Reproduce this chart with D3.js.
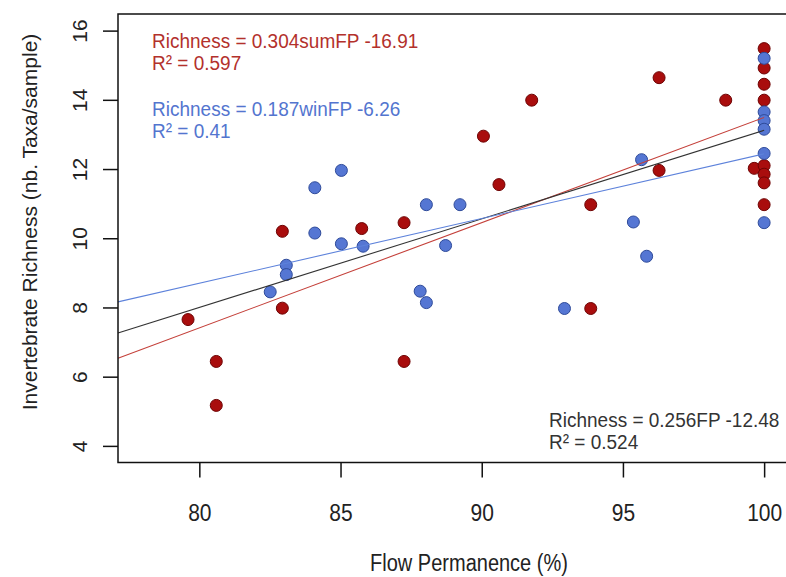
<!DOCTYPE html>
<html>
<head>
<meta charset="utf-8">
<script src="https://cdn.jsdelivr.net/npm/d3@7"></script>
<style>
  body { margin: 0; background: #fff; }
  svg text { font-family: "Liberation Sans", Arial, sans-serif; }
</style>
</head>
<body>
<svg id="chart" width="786" height="577"></svg>
<script>
// summer flow permanence (red) and winter flow permanence (blue)
var sumX = [79.6, 80.6, 80.6, 82.94, 82.94, 85.75, 87.25, 87.25, 90.06, 90.61, 91.77, 93.86, 93.86,
            96.28, 96.28, 98.64, 99.65, 100, 100, 100, 100, 100, 100, 100, 100];
var sumY = [7.65, 6.44, 5.17, 10.2, 7.98, 10.28, 10.45, 6.44, 12.95, 11.55, 13.99, 10.97, 7.97,
            14.64, 11.96, 13.99, 12.02, 15.48, 14.92, 14.45, 13.99, 12.1, 11.85, 11.6, 10.97];
var winX = [82.51, 83.08, 83.08, 84.09, 84.09, 85.03, 85.03, 85.8, 87.82, 88.04, 88.04, 88.72,
            89.23, 92.93, 95.37, 95.66, 95.84, 100, 100, 100, 100, 100, 100];
var winY = [8.45, 9.22, 8.95, 11.46, 10.15, 11.96, 9.84, 9.77, 8.47, 10.97, 8.14, 9.79,
            10.97, 7.97, 10.47, 12.27, 9.48, 15.2, 13.65, 13.4, 13.15, 12.45, 10.45];

// fitted lines: [slope, intercept]
var fitAll = [0.256, -12.48];
var fitSum = [0.304, -16.91];
var fitWin = [0.187, -6.26];

var xTicks = [80, 85, 90, 95, 100];
var yTicks = [4, 6, 8, 10, 12, 14, 16];

var svg = d3.select('#chart');

// plot region (R style: limits padded by 4%)
var plotLeft = 118, plotTop = 14, plotBottom = 462.5;
var x = d3.scaleLinear().domain([77.12, 100.88]).range([plotLeft, plotLeft + 23.76 * 28.24]);
var y = d3.scaleLinear().domain([3.52, 16.48]).range([plotBottom, plotTop]);

// the source image is a bit taller than wide, glyphs too
var stretch = 1.15;

var red = '#a90d0d', redEdge = '#6e0404';
var blue = '#5576d3', blueEdge = '#2f4b9a';

// points
function drawPoints(xs, ys, fill, edge) {
    svg.append('g')
        .selectAll('circle')
        .data(xs.map(function(v, i) { return [v, ys[i]]; }))
        .join('circle')
        .attr('cx', function(d) { return x(d[0]); })
        .attr('cy', function(d) { return y(d[1]); })
        .attr('r', 6)
        .attr('fill', fill)
        .attr('stroke', edge)
        .attr('stroke-width', 1);
}
drawPoints(sumX, sumY, red, redEdge);
drawPoints(winX, winY, blue, blueEdge);

// regression lines, from the left edge of the plot to 100 %
function drawFit(fit, colour) {
    var x0 = x.domain()[0], x1 = 100;
    svg.append('line')
        .attr('x1', x(x0)).attr('y1', y(fit[0] * x0 + fit[1]))
        .attr('x2', x(x1)).attr('y2', y(fit[0] * x1 + fit[1]))
        .attr('stroke', colour)
        .attr('stroke-width', 1.1);
}
drawFit(fitSum, '#c4403a');
drawFit(fitAll, '#333333');
drawFit(fitWin, '#5d82db');

// box
svg.append('rect')
    .attr('x', plotLeft).attr('y', plotTop)
    .attr('width', 700).attr('height', plotBottom - plotTop)
    .attr('fill', 'none')
    .attr('stroke', '#111')
    .attr('stroke-width', 1.5);

// axes
var xAxis = d3.axisBottom(x).tickValues(xTicks).tickSize(15);
var gx = svg.append('g').attr('transform', 'translate(0,' + plotBottom + ')').call(xAxis);
gx.select('.domain').remove();
gx.selectAll('line').attr('stroke', '#111').attr('stroke-width', 1.5);
gx.selectAll('text').attr('font-size', 21).attr('fill', '#222')
    .attr('dy', 0).attr('y', 0)
    .attr('transform', 'translate(0,58) scale(1,' + stretch + ')');

var yAxis = d3.axisLeft(y).tickValues(yTicks).tickSize(15);
var gy = svg.append('g').attr('transform', 'translate(' + plotLeft + ',0)').call(yAxis);
gy.select('.domain').remove();
gy.selectAll('line').attr('stroke', '#111').attr('stroke-width', 1.5);
gy.selectAll('text')
    .attr('font-size', 21).attr('fill', '#222')
    .attr('x', 0).attr('dy', 0)
    .attr('text-anchor', 'middle')
    .attr('transform', 'translate(-31,0) rotate(-90)');

// axis titles
svg.append('text')
    .attr('transform', 'translate(469,571) scale(1,' + stretch + ')')
    .attr('text-anchor', 'middle')
    .attr('font-size', 20).attr('fill', '#222')
    .text('Flow Permanence (%)');

svg.append('text')
    .attr('transform', 'translate(37,222) rotate(-90)')
    .attr('text-anchor', 'middle')
    .attr('font-size', 21).attr('fill', '#222')
    .text('Invertebrate Richness (nb. Taxa/sample)');

// equations
function note(xp, yp, colour, lines) {
    lines.forEach(function(s, i) {
        svg.append('text')
            .attr('transform', 'translate(' + xp + ',' + (yp + i * 22) + ') scale(1,1.1)')
            .attr('font-size', 19).attr('fill', colour)
            .text(s);
    });
}
note(152, 48, '#b3312c', ['Richness = 0.304sumFP -16.91', 'R\u00b2 = 0.597']);
note(152, 116, '#5375cf', ['Richness = 0.187winFP -6.26', 'R\u00b2 = 0.41']);
note(549, 427, '#333333', ['Richness = 0.256FP -12.48', 'R\u00b2 = 0.524']);
</script>
</body>
</html>
